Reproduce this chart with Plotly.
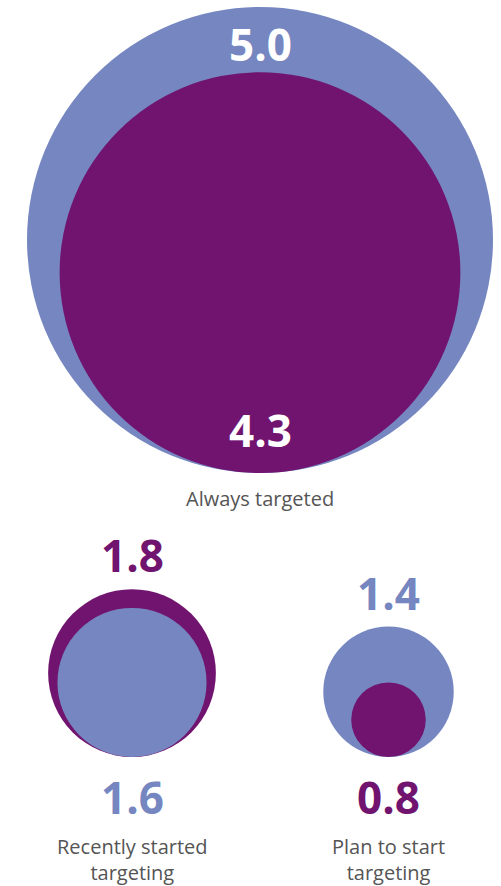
import plotly.graph_objects as go

# ---- data ----
groups = ["Always targeted", "Recently started<br>targeting", "Plan to start<br>targeting"]
blue_values = [5.0, 1.6, 1.4]
purple_values = [4.3, 1.8, 0.8]
value_labels_blue = ["5.0", "1.6", "1.4"]
value_labels_purple = ["4.3", "1.8", "0.8"]

# ---- layout constants (pixels) ----
W, H = 501, 886
PX_PER_UNIT = 46.6
centers_x_px = [260, 132, 388.5]
bottoms_px = [473, 757, 757]

BLUE = "#7586C1"
PURPLE = "#71146F"
GREY = "#555555"
FONT = "Open Sans"

def u(px):
    return px / PX_PER_UNIT

fig = go.Figure()
# invisible trace so axes exist
fig.add_trace(go.Scatter(x=[0], y=[0], mode="markers", marker=dict(opacity=0), hoverinfo="skip", showlegend=False))

shapes = []
annotations = []
for i, g in enumerate(groups):
    cx = u(centers_x_px[i])
    base = u(bottoms_px[i])
    circles = [(blue_values[i], BLUE, value_labels_blue[i]), (purple_values[i], PURPLE, value_labels_purple[i])]
    circles.sort(key=lambda c: -c[0])
    for v, col, _ in circles:
        shapes.append(dict(type="circle", xref="x", yref="y",
                           x0=cx - v, x1=cx + v, y0=base - 2 * v, y1=base,
                           fillcolor=col, line=dict(width=0), layer="above"))
    big, small = circles
    top = base - 2 * big[0]
    if i == 0:
        # labels inside
        annotations.append(dict(x=cx, y=top + u(37), text=big[2], showarrow=False,
                                font=dict(family=FONT, size=44, color="white", weight="bold"),
                                xanchor="center", yanchor="middle"))
        annotations.append(dict(x=cx, y=base - u(43), text=small[2], showarrow=False,
                                font=dict(family=FONT, size=44, color="white", weight="bold"),
                                xanchor="center", yanchor="middle"))
        annotations.append(dict(x=cx, y=base + u(25), text=g, showarrow=False,
                                font=dict(family=FONT, size=20, color=GREY),
                                xanchor="center", yanchor="middle"))
    else:
        annotations.append(dict(x=cx, y=top - u(34), text=big[2], showarrow=False,
                                font=dict(family=FONT, size=44, color=big[1], weight="bold"),
                                xanchor="center", yanchor="middle"))
        annotations.append(dict(x=cx, y=base + u(40), text=small[2], showarrow=False,
                                font=dict(family=FONT, size=44, color=small[1], weight="bold"),
                                xanchor="center", yanchor="middle"))
        annotations.append(dict(x=cx, y=base + u(102), text=g, showarrow=False,
                                font=dict(family=FONT, size=20, color=GREY),
                                xanchor="center", yanchor="middle"))

fig.update_layout(
    width=W, height=H,
    margin=dict(l=0, r=0, t=0, b=0),
    paper_bgcolor="white", plot_bgcolor="white",
    shapes=shapes, annotations=annotations,
    xaxis=dict(range=[0, u(W)], visible=False, fixedrange=True),
    yaxis=dict(range=[u(H), 0], visible=False, fixedrange=True),
    showlegend=False,
)
fig.write_html("out.html", config={"displayModeBar": False})
